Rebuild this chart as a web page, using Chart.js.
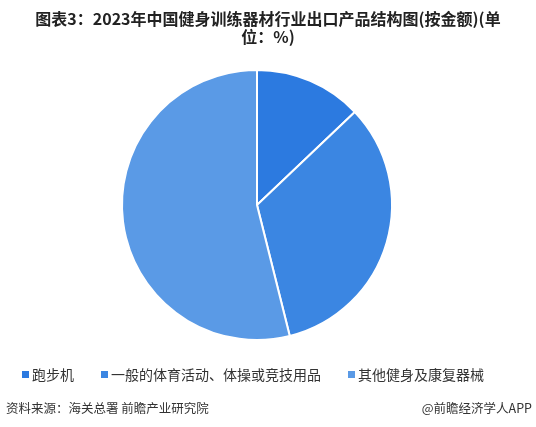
<!DOCTYPE html>
<html>
<head>
<meta charset="utf-8">
<script src="https://cdn.jsdelivr.net/npm/chart.js@4/dist/chart.umd.min.js"></script>
<style>
  body { margin: 0; background: #fff; font-family: "Noto Sans CJK SC", sans-serif; }
  #wrap { position: relative; width: 536px; height: 427px; overflow: hidden; }
  #title { position: absolute; left: 0; top: 9px; width: 536px; text-align: center;
           font-size: 16px; font-weight: bold; line-height: 18px; color: #222; white-space: nowrap; }
  #legend { position: absolute; top: 364px; left: 0; width: 536px; font-size: 14px; color: #333; }
  #legend span.item { position: absolute; white-space: nowrap; }
  #legend i { display: inline-block; width: 7px; height: 7px; margin-right: 3px; vertical-align: 2px; }
  .foot { position: absolute; top: 398px; font-size: 12.5px; color: #333; }
  canvas { position: absolute; left: 0; top: 0; }
</style>
</head>
<body>
<div id="wrap">
  <canvas id="c" width="536" height="427"></canvas>
  <div id="title">图表3：2023年中国健身训练器材行业出口产品结构图(按金额)(单<br>位：%)</div>
  <div id="legend"></div>
  <div class="foot" style="left:6px;">资料来源：海关总署 前瞻产业研究院</div>
  <div class="foot" style="right:4px;">@前瞻经济学人APP</div>
</div>
<script>
// 数据
const categories = ['跑步机', '一般的体育活动、体操或竞技用品', '其他健身及康复器械'];
const shares = [12.9, 33.2, 53.9];
const sliceColors = ['#2c7ae0', '#3b86e2', '#5a9ae6'];
const legendX = [22, 101, 348];

// 图例 (HTML)
const legendEl = document.getElementById('legend');
categories.forEach((name, i) => {
  const s = document.createElement('span');
  s.className = 'item';
  s.style.left = legendX[i] + 'px';
  s.innerHTML = '<i style="background:' + sliceColors[i] + '"></i>' + name;
  legendEl.appendChild(s);
});

new Chart(document.getElementById('c'), {
  type: 'pie',
  data: {
    labels: categories,
    datasets: [{
      data: shares,
      backgroundColor: sliceColors,
      borderColor: '#ffffff',
      borderWidth: 2
    }]
  },
  options: {
    responsive: false,
    animation: false,
    layout: { padding: { top: 69, bottom: 86, left: 0, right: 22 } },
    plugins: {
      legend: { display: false },
      tooltip: { enabled: false }
    }
  }
});
</script>
</body>
</html>
